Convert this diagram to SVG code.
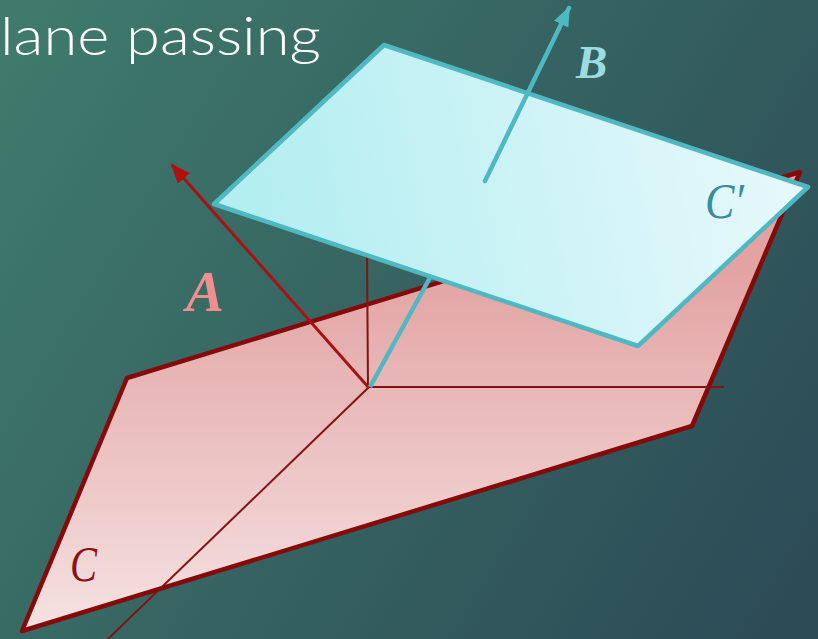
<svg xmlns="http://www.w3.org/2000/svg" width="818" height="639" viewBox="0 0 818 639">
<style>
.lab{font-family:"Liberation Serif","DejaVu Serif",serif;font-style:italic}
.red{stroke:#a81212;fill:none}
.thin{stroke:#7f1414;stroke-width:2;fill:none}
.cy{stroke:#50b8c0;fill:none}
</style>
<defs>
<linearGradient id="bg" gradientUnits="userSpaceOnUse" x1="0" y1="60" x2="818" y2="560">
<stop offset="0" stop-color="#3f7a6c"/><stop offset="1" stop-color="#2c4b56"/>
</linearGradient>
<linearGradient id="rp" gradientUnits="userSpaceOnUse" x1="400" y1="270" x2="400" y2="631">
<stop offset="0" stop-color="#e3a3a3"/><stop offset="1" stop-color="#f5e2e2"/>
</linearGradient>
<linearGradient id="cp" gradientUnits="userSpaceOnUse" x1="260" y1="230" x2="780" y2="130">
<stop offset="0" stop-color="#b3eef1"/><stop offset="1" stop-color="#e6f8fb"/>
</linearGradient>
<marker id="ra" markerUnits="userSpaceOnUse" markerWidth="22" markerHeight="18" refX="18" refY="8" orient="auto"><path d="M0 0L20 8L0 16Z" fill="#b01010"/></marker>
<marker id="ca" markerUnits="userSpaceOnUse" markerWidth="22" markerHeight="18" refX="18" refY="8" orient="auto"><path d="M0 0L20 8L0 16Z" fill="#50b8c0"/></marker>
</defs>
<rect width="818" height="639" fill="url(#bg)"/>
<text x="0" y="55" font-family="Lato,'Noto Sans',sans-serif" font-weight="300" font-size="54" fill="#ffffff" textLength="321" lengthAdjust="spacingAndGlyphs">lane passing</text>
<g id="plane-c"><path d="M127 378L800 172L692 426L22 631Z" fill="url(#rp)" stroke="#850a0a" stroke-width="4.5" stroke-linejoin="round"/>
<text class="lab" x="70" y="581" font-size="50" fill="#8a1212" textLength="27" lengthAdjust="spacingAndGlyphs">C</text></g>
<g id="connectors">
<path class="thin" d="M367 250L368 388"/>
<path class="thin" d="M369 387L724 387"/>
<path class="thin" d="M369 387L108 639"/>
<path class="red" stroke-width="3" d="M369 388L172 165" marker-end="url(#ra)"/>
<path class="cy" stroke-width="4.5" d="M370 387L432 274"/>
</g>
<g id="plane-cprime"><path d="M384 45L808 187L638 346L214 204Z" fill="url(#cp)" stroke="#50b8c0" stroke-width="4.5" stroke-linejoin="round"/>
<text class="lab" x="705" y="218" font-size="50" fill="#358f98" textLength="39" lengthAdjust="spacingAndGlyphs">C′</text></g>
<g id="arrow-b"><path class="cy" stroke-width="4.5" stroke-linecap="round" d="M485 181L569 8" marker-end="url(#ca)"/></g>
<text class="lab" id="label-a" x="186" y="311" font-size="57" font-weight="bold" fill="#f08f8f">A</text>
<text class="lab" id="label-b" x="576" y="78" font-size="47" font-weight="bold" fill="#9cdde2">B</text>
</svg>
